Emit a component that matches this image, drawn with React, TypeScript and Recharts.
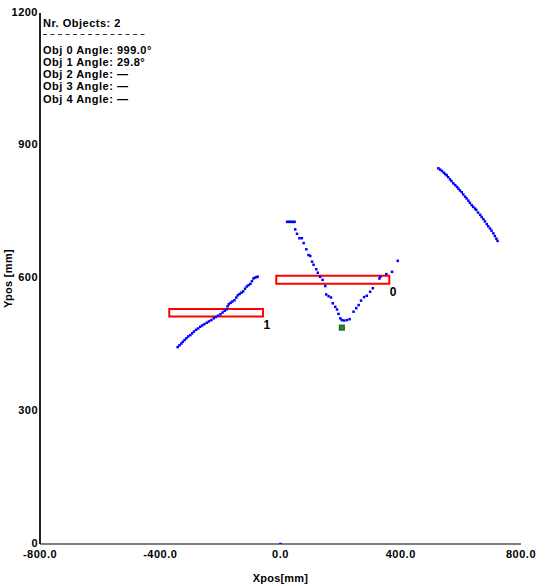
import React from 'react';
import { ScatterChart, Scatter, XAxis, YAxis, ReferenceArea } from 'recharts';

const FONT = "'Liberation Sans', Arial, sans-serif";

const xTicks = [-800, -400, 0, 400, 800];
const yTicks = [0, 300, 600, 900, 1200];

const infoTitle = 'Nr. Objects: 2';
const infoLines = [
  'Obj 0 Angle: 999.0°',
  'Obj 1 Angle: 29.8°',
  'Obj 2 Angle: —',
  'Obj 3 Angle: —',
  'Obj 4 Angle: —',
];

// object 0 (middle, V-shaped track)
const obj0Raw: [number, number][] = [
  [22, 728], [27, 728], [32, 728], [37, 728], [42, 728], [47, 728],
  [49, 711], [55, 701], [63, 691], [71, 691], [77, 680], [86, 666],
  [93, 653], [99, 651], [105, 638], [110, 631], [119, 621], [124, 613],
  [132, 604], [140, 597], [149, 583], [152, 564], [160, 560], [168, 557],
  [174, 544], [182, 536], [188, 530], [193, 520], [199, 510], [204, 506],
  [212, 505], [221, 506], [230, 508], [243, 525], [252, 533], [260, 540],
  [268, 550], [278, 558], [287, 561], [298, 570], [307, 578], [329, 600],
  [332, 604], [352, 610], [371, 615], [390, 640],
];

// object 1 (left track)
const obj1Raw: [number, number][] = [
  [-342, 445], [-336, 449], [-330, 453], [-325, 457], [-319, 461], [-313, 465],
  [-307, 469], [-300, 472], [-294, 476], [-288, 480], [-281, 484], [-274, 487],
  [-267, 491], [-260, 494], [-253, 497], [-245, 500], [-238, 503], [-230, 506],
  [-222, 510], [-215, 513], [-208, 516], [-200, 519], [-193, 523], [-186, 527],
  [-180, 530], [-176, 537], [-172, 542], [-166, 545], [-160, 548], [-153, 551],
  [-147, 557], [-142, 562], [-136, 565], [-130, 568], [-124, 571], [-118, 577],
  [-112, 582], [-106, 585], [-100, 588], [-95, 594], [-90, 600], [-85, 602],
  [-80, 603], [-76, 604],
];

// unassigned track (right)
const obj2Raw: [number, number][] = [
  [525, 849], [531, 846], [537, 843], [543, 839], [548, 836], [553, 833],
  [558, 829], [564, 824], [569, 820], [575, 815], [581, 811], [587, 807],
  [592, 803], [597, 799], [603, 795], [608, 790], [614, 785], [619, 781],
  [625, 776], [630, 771], [636, 766], [641, 762], [647, 758], [651, 755],
  [657, 749], [664, 744], [669, 739], [675, 734], [680, 729], [686, 723],
  [691, 718], [697, 713], [702, 708], [708, 702], [713, 696], [718, 690],
  [722, 685],
];

const originRaw: [number, number][] = [[0, 0]];
const markerRaw: [number, number][] = [[204, 489]];

const boxes = [
  { id: '0', x1: -14, x2: 362, y1: 588, y2: 606 },
  { id: '1', x1: -370, x2: -58, y1: 514, y2: 531 },
];

const toPts = (a: [number, number][]) => a.map(([x, y]) => ({ x, y }));

const TXT = { fontFamily: FONT, fontWeight: 'bold' as const, fontSize: 11, fill: '#000', letterSpacing: 0.5 };

const BlueDot = (p: any) => (
  <rect x={p.cx - 1.25} y={p.cy - 1.25} width={2.5} height={2.5} fill="#0000ff" />
);
const GreenSq = (p: any) => (
  <rect x={p.cx - 2.5} y={p.cy - 2.5} width={5} height={5} fill="#2a8a2a" stroke="#0f5a0f" strokeWidth={1} />
);

const XTick = (p: any) => (
  <text x={p.x} y={p.y + 14} textAnchor="middle" {...TXT}>
    {Number(p.payload.value).toFixed(1)}
  </text>
);
const YTick = (p: any) => (
  <text x={p.x - 2} y={p.y + 2.5} textAnchor="end" {...TXT}>
    {p.payload.value}
  </text>
);

const BoxLabel = (p: any) => {
  const vb = p.viewBox || {};
  return (
    <text x={vb.x + vb.width + 0.5} y={vb.y + vb.height + 12} {...TXT} fontSize={12}>
      {p.text}
    </text>
  );
};

const XTitle = (p: any) => {
  const vb = p.viewBox || {};
  return (
    <text x={vb.x + vb.width / 2} y={vb.y + 38} textAnchor="middle" {...TXT} letterSpacing={0.2}>
      Xpos[mm]
    </text>
  );
};
const YTitle = (p: any) => {
  const vb = p.viewBox || {};
  const cx = 8;
  const cy = vb.y + vb.height / 2;
  return (
    <text x={cx} y={cy} transform={`rotate(-90 ${cx} ${cy})`} textAnchor="middle" dominantBaseline="central" {...TXT} letterSpacing={0.3}>
      Ypos [mm]
    </text>
  );
};

export default function App() {
  return (
    <div style={{ position: 'absolute', left: 0, top: 0, width: 555, height: 586, background: '#fff' }}>
      <ScatterChart width={555} height={586} margin={{ top: 13, right: 34, bottom: 0, left: 0 }}>
        <XAxis
          type="number"
          dataKey="x"
          domain={[-800, 800]}
          ticks={xTicks}
          allowDataOverflow
          height={42}
          tickLine={false}
          tickSize={0}
          tickMargin={0}
          axisLine={{ stroke: '#555', strokeWidth: 1.5 }}
          tick={<XTick />}
          label={<XTitle />}
        />
        <YAxis
          type="number"
          dataKey="y"
          domain={[0, 1200]}
          ticks={yTicks}
          allowDataOverflow
          width={40}
          tickLine={false}
          tickSize={0}
          tickMargin={0}
          axisLine={{ stroke: '#222', strokeWidth: 2 }}
          tick={<YTick />}
          label={<YTitle />}
        />
        {boxes.map((b) => (
          <ReferenceArea
            key={b.id}
            x1={b.x1}
            x2={b.x2}
            y1={b.y1}
            y2={b.y2}
            fill="none"
            fillOpacity={0}
            stroke="#ff0000"
            strokeWidth={2}
            label={<BoxLabel text={b.id} />}
          />
        ))}
        <Scatter data={toPts(obj1Raw)} shape={BlueDot} isAnimationActive={false} />
        <Scatter data={toPts(obj0Raw)} shape={BlueDot} isAnimationActive={false} />
        <Scatter data={toPts(obj2Raw)} shape={BlueDot} isAnimationActive={false} />
        <Scatter data={toPts(originRaw)} shape={BlueDot} isAnimationActive={false} />
        <Scatter data={toPts(markerRaw)} shape={GreenSq} isAnimationActive={false} />
      </ScatterChart>
      <svg width={555} height={120} style={{ position: 'absolute', left: 0, top: 0, pointerEvents: 'none' }}>
        <text x={43} y={26.5} {...TXT}>{infoTitle}</text>
        <line x1={43} y1={34.5} x2={148} y2={34.5} stroke="#333" strokeWidth={1} strokeDasharray="4 3.5" />
        {infoLines.map((t, i) => (
          <text key={i} x={43} y={53.5 + i * 12.25} {...TXT}>{t}</text>
        ))}
      </svg>
    </div>
  );
}
